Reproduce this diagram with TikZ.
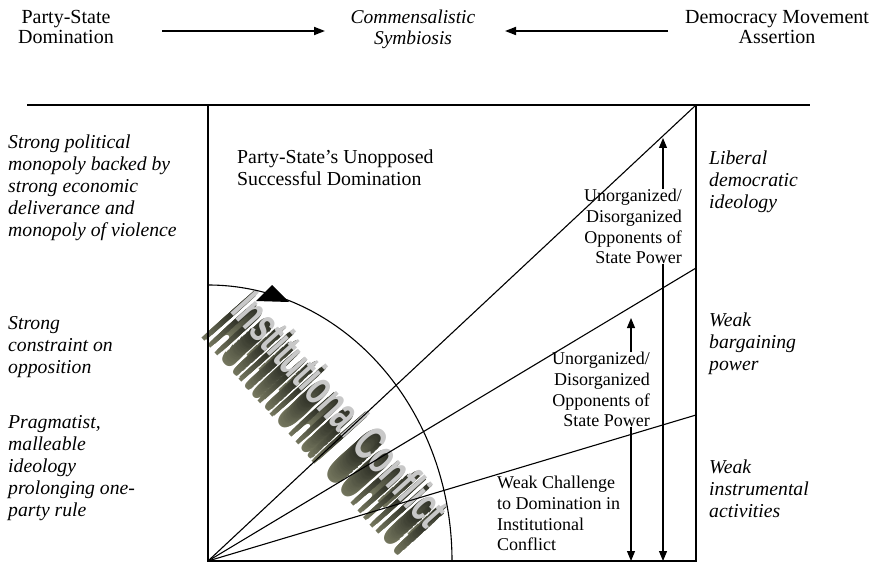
\documentclass[tikz,border=0pt]{standalone}
\usepackage{fontspec}
\usepackage{graphicx}
\setmainfont{Liberation Serif}
\newfontfamily\wafont{Liberation Sans}
\usetikzlibrary{arrows.meta,calc}
\definecolor{wafar}{HTML}{74765E}
\definecolor{wanear}{HTML}{303228}
\definecolor{wafront}{HTML}{C8C8C8}
\begin{document}
\begin{tikzpicture}[x=1pt,y=-1pt,
  txt/.style={inner sep=0pt, font=\fontsize{18}{20.7}\selectfont},
  toptxt/.style={inner sep=0pt, align=center, anchor=north, font=\fontsize{20}{20.5}\selectfont},
  itxt/.style={inner sep=0pt, align=left, anchor=north west, font=\fontsize{19.7}{22}\selectfont\itshape},
  topar/.style={line width=1.7pt, -{Triangle[length=11pt,width=8pt]}},
  var/.style={line width=1.1pt, -{Triangle[length=10pt,width=8pt]}},
  ln/.style={line width=1.1pt},
  wa/.style={inner sep=0pt, rotate=-48, font=\fontsize{50}{50}\wafont\bfseries}
]
\useasboundingbox (0,0) rectangle (874,564);

% top row
\node[toptxt] (psd) at (66,10) {Party-State\\Domination};
\node[toptxt, font=\fontsize{19.5}{20.5}\selectfont\itshape] (cs) at (413,10) {Commensalistic\\Symbiosis};
\node[toptxt] (dma) at (777,10) {Democracy Movement\\Assertion};
\coordinate (a1s) at (162,31);
\coordinate (a1e) at (325,31);
\coordinate (a2s) at (668,31);
\coordinate (a2e) at (505,31);
\draw[topar] (a1s) -- (a1e);
\draw[topar] (a2s) -- (a2e);

% word art (3D extruded text)
\coordinate (wac) at (341,409);
\foreach \i in {38,36,...,2} {
  \pgfmathsetmacro\t{100*\i/38}
  \node[wa, text=wafar!\t!wanear] at ($(wac)+(-0.74*\i,0.67*\i)$) {\scalebox{0.61}[1]{Institutional Conflict}};
}
\node[wa, text=wafront] (inst) at (wac) {\scalebox{0.61}[1]{Institutional Conflict}};

% frame
\coordinate (tll) at (27,105);
\coordinate (trr) at (810,105);
\coordinate (TL) at (208,105);
\coordinate (TR) at (696,105);
\coordinate (O) at (208,561);
\coordinate (BR) at (696,561);
\coordinate (R2) at (696,268);
\coordinate (R3) at (696,415);
\draw[ln] (tll) -- (trr);
\draw[ln] (TL) -- (O) -- (BR) -- (TR);
\draw[ln] (O) -- (TR);
\draw[ln] (O) -- (R2);
\draw[ln] (O) -- (R3);
\draw[ln] (208,285) arc[start angle=90, end angle=0, x radius=244pt, y radius=276pt];
\fill (272,285) -- (256,301) -- (289,302) -- cycle;

% inner texts
\node[inner sep=0pt, align=left, anchor=north west, font=\fontsize{19.8}{21.5}\selectfont] (psu) at (237,150) {Party-State's Unopposed\\Successful Domination};
\node[txt, align=right, anchor=north east] (la) at (682,189) {Unorganized/\\Disorganized\\Opponents of\\State Power};
\node[txt, align=right, anchor=north east] (lb) at (650,352) {Unorganized/\\Disorganized\\Opponents of\\State Power};
\node[txt, align=left, anchor=north west] (lc) at (497,476) {Weak Challenge\\to Domination in\\Institutional\\Conflict};

\coordinate (laup) at (663,138);
\coordinate (ladn) at (663,561);
\coordinate (lbup) at (631,318);
\coordinate (lbdn) at (631,561);
\draw[var] (la.north -| laup) -- (laup);
\draw[var] (la.south -| ladn) -- (ladn);
\draw[var] (lb.north -| lbup) -- (lbup);
\draw[var] (lb.south -| lbdn) -- (lbdn);

% side texts
\node[itxt] (l1) at (8,135) {Strong political\\monopoly backed by\\strong economic\\deliverance and\\monopoly of violence};
\node[itxt] (l2) at (8,316) {Strong\\constraint on\\opposition};
\node[itxt] (l3) at (8,415) {Pragmatist,\\malleable\\ideology\\prolonging one-\\party rule};
\node[itxt] (r1) at (709,151) {Liberal\\democratic\\ideology};
\node[itxt] (r2) at (709,313) {Weak\\bargaining\\power};
\node[itxt] (r3) at (709,460) {Weak\\instrumental\\activities};
\end{tikzpicture}
\end{document}
